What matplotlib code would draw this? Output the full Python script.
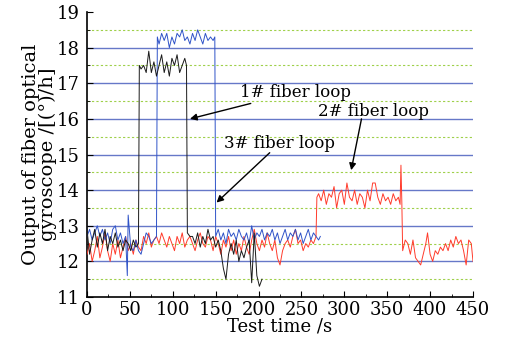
import matplotlib
matplotlib.use("Agg")
import matplotlib.pyplot as plt

# ---- data ----
t_black = [0, 3, 6, 9, 12, 15, 18, 21, 24, 27, 30, 33, 36, 39, 42, 45, 48, 51, 54, 57, 60,
           61, 63, 66, 69, 72, 75, 78, 81, 84, 87, 90, 93, 96, 99, 102, 105, 108, 111, 114, 116,
           117, 120, 123, 126, 129, 132, 135, 138, 141, 144, 147, 150, 153, 156, 159, 162, 165,
           168, 171, 174, 177, 180, 183, 186, 189, 192, 195, 198, 201, 204]
v_black = [12.9, 12.2, 12.6, 12.9, 12.4, 12.8, 12.5, 12.9, 12.3, 12.7, 12.5, 12.8, 12.4, 12.6,
           12.3, 12.6, 12.5, 12.3, 12.6, 12.4, 12.5,
           17.5, 17.4, 17.5, 17.3, 17.9, 17.3, 17.6, 17.2, 17.5, 17.8, 17.3, 17.6, 17.2, 17.7,
           17.5, 17.8, 17.3, 17.5, 17.7, 17.5,
           12.8, 12.7, 12.7, 12.5, 12.8, 12.4, 12.7, 12.5, 12.9, 12.6, 12.7, 12.4, 12.6, 12.3,
           11.8, 11.5, 12.2, 12.5, 12.2, 12.6, 12.0, 12.3, 12.1, 12.4, 12.6, 11.4, 12.8, 11.6,
           11.3, 11.5]

t_blue = [0, 3, 6, 9, 12, 15, 18, 21, 24, 27, 30, 33, 36, 39, 42, 45, 47, 48, 51, 54, 57, 60,
          63, 66, 69, 72, 75, 78, 81,
          82, 84, 87, 90, 93, 96, 99, 102, 105, 108, 111, 114, 117, 120, 123, 126, 129, 132,
          135, 138, 141, 144, 147, 149,
          150, 153, 156, 159, 162, 165, 168, 171, 174, 177, 180, 183, 186, 189, 192, 195, 198,
          201, 204, 207, 210, 213, 216, 219, 222, 225, 228, 231, 234, 237, 240, 243, 246, 249,
          252, 255, 258, 261, 264, 267, 270, 272]
v_blue = [12.7, 12.9, 12.6, 12.8, 13.0, 12.7, 12.9, 12.6, 12.8, 12.5, 12.9, 13.0, 12.6, 12.8,
          12.5, 12.7, 11.6, 13.3, 12.4, 12.3, 12.6, 12.3, 12.2, 12.5, 12.8, 12.7, 12.5, 12.6,
          12.7,
          18.3, 18.1, 18.4, 18.2, 18.4, 18.0, 18.3, 18.1, 18.4, 18.3, 18.5, 18.2, 18.3, 18.1,
          18.4, 18.2, 18.5, 18.3, 18.1, 18.4, 18.2, 18.3, 18.2, 18.3,
          12.7, 12.9, 12.6, 12.8, 12.5, 12.9, 12.7, 12.8, 12.6, 12.9, 12.7, 12.6, 12.8, 12.5,
          13.0, 12.6, 12.8, 12.7, 12.9, 12.6, 12.8, 12.7, 12.9, 12.6, 12.8, 12.5, 12.7, 12.9,
          12.6, 12.8, 12.7, 12.9, 12.6, 12.8, 12.5, 12.7, 12.9, 12.6, 12.8, 12.7, 12.6, 12.7]

t_red = [0, 3, 6, 9, 12, 15, 18, 21, 24, 27, 30, 33, 36, 39, 42, 45, 48, 51, 54, 57, 60, 63,
         66, 69, 72, 75, 78, 81, 84, 87, 90, 93, 96, 99, 102, 105, 108, 111, 114, 117, 120, 123,
         126, 129, 132, 135, 138, 141, 144, 147, 150, 153, 156, 159, 162, 165, 168, 171, 174,
         177, 180, 183, 186, 189, 192, 195, 198, 201, 204, 207, 210, 213, 216, 219, 222, 225,
         228, 231, 234, 237, 240, 243, 246, 249, 252, 255, 258, 261, 264, 267,
         268, 270, 273, 276, 279, 282, 285, 288, 291, 294, 297, 300, 303, 306, 309, 312, 315,
         318, 321, 324, 327, 330, 333, 336, 339, 342, 345, 348, 351, 354, 357, 360, 363, 365,
         366, 367, 368, 371, 374, 377, 380, 383, 386, 389, 392, 395, 397, 400, 403, 406, 409,
         412, 415, 418, 421, 424, 427, 430, 433, 436, 439, 442, 445, 448, 450]
v_red = [12.2, 12.5, 12.0, 12.3, 12.7, 12.1, 12.4, 12.8, 12.3, 12.0, 12.5, 12.2, 12.6, 12.1,
         12.4, 12.7, 12.3, 12.5, 12.2, 12.6, 12.4, 12.3, 12.7, 12.5, 12.8, 12.4, 12.6, 12.7,
         12.5, 12.8, 12.6, 12.4, 12.7, 12.5, 12.3, 12.7, 12.5, 12.8, 12.4, 12.6, 12.7, 12.5,
         12.3, 12.6, 12.8, 12.5, 12.4, 12.7, 12.6, 12.3, 12.7, 12.5, 12.2, 12.6, 12.4, 12.7,
         12.3, 12.6, 12.2, 12.5, 12.3, 12.7, 12.4, 12.2, 12.6, 12.9, 12.5, 12.3, 12.6, 12.4,
         12.8, 12.5, 12.3, 12.6, 12.1, 11.9, 12.3, 12.5, 12.6, 12.4, 12.7, 12.9, 12.5, 12.6,
         12.3, 12.5, 12.4, 12.6, 12.5, 12.7,
         13.8, 13.9, 13.7, 14.0, 13.6, 13.9, 13.8, 14.1, 13.5, 13.9, 14.0, 13.6, 14.2, 13.8,
         13.7, 14.0, 13.6, 13.9, 13.8, 13.5, 14.0, 13.7, 14.2, 14.2, 13.8, 13.6, 13.9, 13.7,
         13.8, 13.6, 13.9, 13.7, 13.8, 13.6,
         14.7, 13.7, 12.3, 12.6, 12.5, 12.2, 12.6, 12.1, 12.0, 11.9, 12.2, 12.5, 12.8, 12.2,
         12.0, 12.3, 12.2, 12.4, 12.3, 12.5, 12.3, 12.6, 12.4, 12.7, 12.5, 12.6, 12.3, 11.9,
         12.6, 12.5, 12.0]

x_ticks = [0, 50, 100, 150, 200, 250, 300, 350, 400, 450]
y_ticks = [11, 12, 13, 14, 15, 16, 17, 18, 19]
labels = ["1# fiber loop", "3# fiber loop", "2# fiber loop"]

plt.rcParams['font.family'] = ['DejaVu Serif']
fig = plt.figure(figsize=(5.08, 3.44), dpi=100)
ax = fig.add_axes([87/508, 1 - 297/344, (473-87)/508, (297-12)/344])

for yv in range(12, 19):
    ax.axhline(yv, color='#6678c8', lw=1.0, zorder=1)
for yv in [11.5 + i for i in range(8)]:
    ax.axhline(yv, color='#9fd04a', lw=0.8, ls=(0, (2, 2)), zorder=1)

ax.plot(t_red, v_red, color='#ff3b2b', lw=0.7, zorder=3)
ax.plot(t_blue, v_blue, color='#2f53c8', lw=0.7, zorder=4)
ax.plot(t_black, v_black, color='#1a1a1a', lw=0.7, zorder=5)

ax.set_xlim(0, 450)
ax.set_ylim(11, 19)
ax.set_xticks(x_ticks)
ax.set_yticks(y_ticks)
ax.set_xticks([25 + 50 * i for i in range(9)], minor=True)
ax.set_yticks([11.5 + i for i in range(8)], minor=True)
ax.tick_params(direction='in', length=4, labelsize=13, width=0.8)
ax.tick_params(axis='x', pad=3)
ax.tick_params(axis='y', pad=5)
ax.tick_params(which='minor', direction='in', length=2.5, width=0.6)
for s in ['top', 'right']:
    ax.spines[s].set_visible(False)
ax.spines['left'].set_linewidth(1.2)
ax.spines['bottom'].set_linewidth(1.2)

ax.set_xlabel("Test time /s", fontsize=13, labelpad=-1)
ax.set_ylabel("Output of fiber optical\ngyroscope /[(°)/h]", fontsize=14, labelpad=0,
              linespacing=0.95)

ax.annotate(labels[0], xy=(120, 16.0), xytext=(178, 16.75), fontsize=12,
            va='center', ha='left',
            arrowprops=dict(arrowstyle='-|>', color='black', lw=1.0, shrinkA=0, shrinkB=0,
                            mutation_scale=10),
            zorder=6)
ax.annotate(labels[1], xy=(151, 13.65), xytext=(160, 15.3), fontsize=12,
            va='center', ha='left', zorder=6)
ax.annotate("", xy=(151, 13.65), xytext=(213, 15.05),
            arrowprops=dict(arrowstyle='-|>', color='black', lw=1.0, shrinkA=0, shrinkB=0,
                            mutation_scale=10))
ax.annotate(labels[2], xy=(308, 14.56), xytext=(269, 16.2), fontsize=12,
            va='center', ha='left', zorder=6)
ax.annotate("", xy=(308, 14.56), xytext=(320, 16.0),
            arrowprops=dict(arrowstyle='-|>', color='black', lw=1.0, shrinkA=0, shrinkB=0,
                            mutation_scale=10))

fig.savefig("out.png", dpi=100, facecolor='white')
